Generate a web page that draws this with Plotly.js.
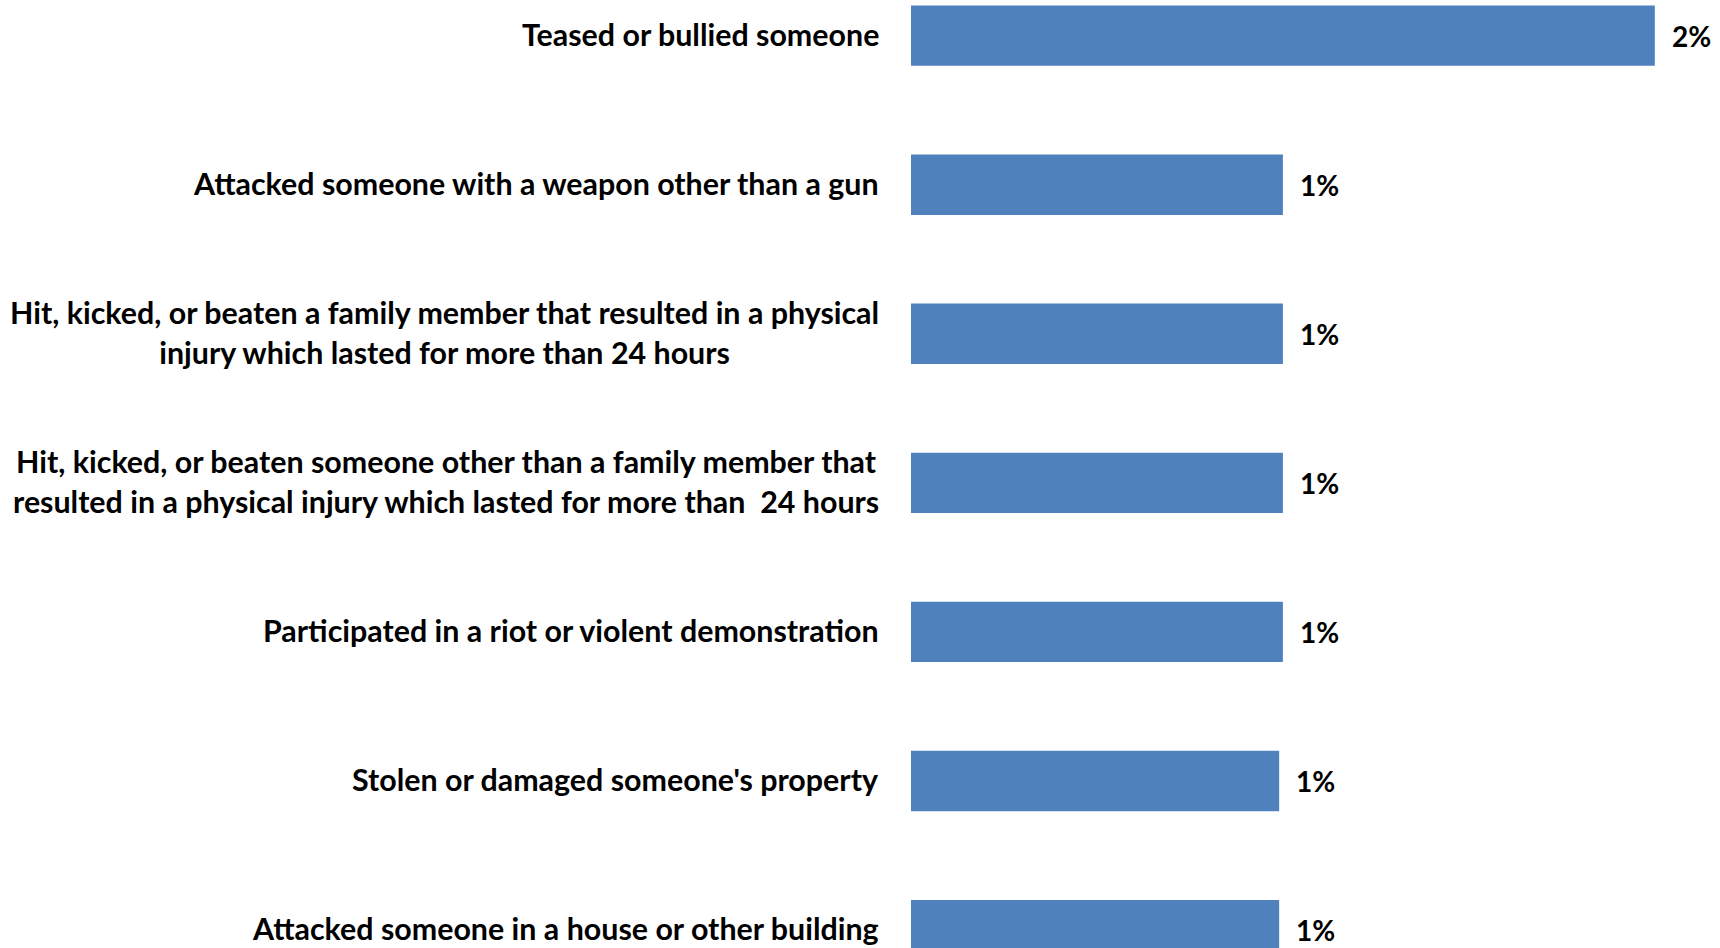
<!DOCTYPE html>
<html>
<head>
<meta charset="utf-8">
<script src="https://cdn.plot.ly/plotly-3.0.1.min.js"></script>
<style>
html, body { margin: 0; padding: 0; background: #ffffff; overflow: hidden; }
#chart { width: 1720px; height: 948px; }
</style>
</head>
<body>
<div id="chart"></div>
<script>
const categories = [
  "Teased or bullied someone",
  "Attacked someone with a weapon other than a gun",
  "Hit, kicked, or beaten a family member that resulted in a physical<br>injury which lasted for more than 24 hours",
  "Hit, kicked, or beaten someone other than a family member that<br>resulted in a physical injury which lasted for more than  24 hours",
  "Participated in a riot or violent demonstration",
  "Stolen or damaged someone's property",
  "Attacked someone in a house or other building"
];
const values = [2.0, 1.0, 1.0, 1.0, 1.0, 0.99, 0.99];
const valueLabels = ["2%", "1%", "1%", "1%", "1%", "1%", "1%"];

const FONT = "Lato, 'Open Sans', 'Liberation Sans', sans-serif";
const categoryKeys = categories.map((c, i) => "c" + i);

const trace = {
  type: "bar",
  orientation: "h",
  y: categoryKeys,
  x: values,
  width: 0.405,
  marker: { color: "#4F81BD", line: { width: 0 } },
  hoverinfo: "skip"
};

const annotations = [];
categories.forEach((c, i) => {
  annotations.push({
    xref: "paper", yref: "y",
    x: 0, y: categoryKeys[i],
    xanchor: "right", yanchor: "middle",
    xshift: -31, yshift: 2,
    text: "<b>" + c + "</b>",
    align: "center",
    showarrow: false,
    borderpad: 0,
    font: { family: FONT, size: 30.4, color: "#000000" }
  });
  annotations.push({
    xref: "x", yref: "y",
    x: values[i], y: categoryKeys[i],
    xanchor: "left", yanchor: "middle",
    xshift: 16, yshift: 0,
    text: "<b>" + valueLabels[i] + "</b>",
    showarrow: false,
    borderpad: 0,
    font: { family: FONT, size: 28, color: "#000000" }
  });
});

const layout = {
  width: 1720,
  height: 948,
  margin: { l: 911, r: 0, t: 0, b: 0, pad: 0 },
  paper_bgcolor: "#ffffff",
  plot_bgcolor: "#ffffff",
  showlegend: false,
  xaxis: {
    range: [0, 2.1753],
    showgrid: false, zeroline: false, showline: false,
    showticklabels: false, ticks: ""
  },
  yaxis: {
    type: "category",
    range: [6.1203, -0.2392],
    showgrid: false, zeroline: false, showline: false,
    showticklabels: false, ticks: ""
  },
  annotations: annotations
};

Plotly.newPlot("chart", [trace], layout, { displayModeBar: false, staticPlot: true });
</script>
</body>
</html>
